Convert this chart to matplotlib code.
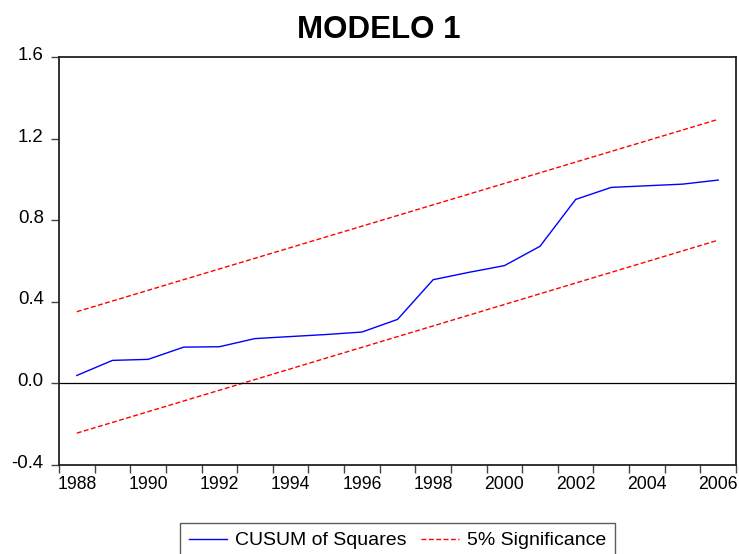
import matplotlib
matplotlib.use("Agg")
import matplotlib.pyplot as plt
import matplotlib.transforms as mtransforms
from matplotlib.ticker import FixedLocator
from matplotlib.lines import Line2D

plt.rcParams['font.family'] = ['Liberation Sans', 'DejaVu Sans']

years = list(range(1988, 2007))
cusum_sq = [0.037, 0.111, 0.116, 0.176, 0.178, 0.218, 0.228, 0.238, 0.250,
            0.312, 0.507, 0.543, 0.576, 0.671, 0.901, 0.960, 0.968, 0.976, 0.996]
band_years = [1988, 2006]
upper_band = [0.350, 1.294]
lower_band = [-0.246, 0.701]
ytick_vals = [-0.4, 0.0, 0.4, 0.8, 1.2, 1.6]
ytick_labels = ["-0.4", "0.0", "0.4", "0.8", "1.2", "1.6"]
xlabel_years = list(range(1988, 2007, 2))

DASH = (3.5, 1.8)

fig = plt.figure(figsize=(7.39, 5.54), dpi=100)
ax = fig.add_axes([59/739, 1 - 464.5/554, (736 - 59)/739, (464.5 - 57)/554])

ax.plot(years, cusum_sq, color='#0000ff', lw=1.0)
ax.plot(band_years, upper_band, color='#ff0000', lw=1.0, dashes=DASH)
ax.plot(band_years, lower_band, color='#ff0000', lw=1.0, dashes=DASH)
ax.axhline(0.0, color='black', lw=0.9)

ax.set_xlim(1987.5, 2006.5)
ax.set_ylim(-0.4, 1.6)

# major ticks at year boundaries (no labels), labels at even year centers
ax.xaxis.set_major_locator(FixedLocator([y - 0.5 for y in years] + [2006.5]))
ax.xaxis.set_major_formatter(plt.NullFormatter())
ax.set_xticks(xlabel_years, minor=True)
ax.set_xticklabels([str(y) for y in xlabel_years], minor=True)
ax.tick_params(axis='x', which='major', direction='out', length=6, width=1.0, color='#444444')
ax.tick_params(axis='x', which='minor', length=0, pad=8.5, labelsize=12.7)

ax.set_yticks(ytick_vals)
ax.set_yticklabels(ytick_labels)
ax.tick_params(axis='y', which='major', direction='out', length=6, width=1.0,
               pad=5, labelsize=13.4, color='#444444')
shift = mtransforms.ScaledTranslation(0, 3.5/100, fig.dpi_scale_trans)
for lbl in ax.get_yticklabels():
    lbl.set_transform(lbl.get_transform() + shift)

for s in ax.spines.values():
    s.set_linewidth(1.3)
    s.set_color('#222222')

fig.text(379/739, 1 - 30/554, "MODELO 1", ha='center', va='center',
         fontsize=22.5, fontweight='bold')

handles = [Line2D([], [], color='#0000ff', lw=1.0),
           Line2D([], [], color='#ff0000', lw=1.0, dashes=DASH)]
leg = fig.legend(handles, ["CUSUM of Squares", "5% Significance"],
                 loc='upper center', bbox_to_anchor=(397.5/739, 1 - 523/554),
                 ncol=2, frameon=True, fancybox=False, fontsize=14,
                 handlelength=1.95, handletextpad=0.4, columnspacing=0.75,
                 borderpad=0.45, borderaxespad=0)
leg.get_frame().set_edgecolor('#333333')
leg.get_frame().set_linewidth(1.0)

fig.savefig("out.png", dpi=100)
